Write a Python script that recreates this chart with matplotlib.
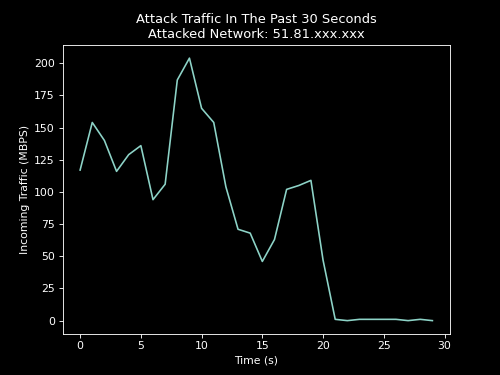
import matplotlib
matplotlib.use("Agg")
import matplotlib.pyplot as plt

plt.style.use("dark_background")

seconds = list(range(30))
traffic = [117, 154, 140, 116, 129, 136, 94, 106, 187, 204,
           165, 154, 104, 71, 68, 46, 63, 102, 105, 109,
           47, 1, 0, 1, 1, 1, 1, 0, 1, 0]

# default 6.4x4.8 figure, saved small
fig, ax = plt.subplots(figsize=(6.4, 4.8))
ax.plot(seconds, traffic)
ax.set_title("Attack Traffic In The Past 30 Seconds\nAttacked Network: 51.81.xxx.xxx")
ax.set_xlabel("Time (s)")
ax.set_ylabel("Incoming Traffic (MBPS)")

fig.savefig("out.png", dpi=78.125)
